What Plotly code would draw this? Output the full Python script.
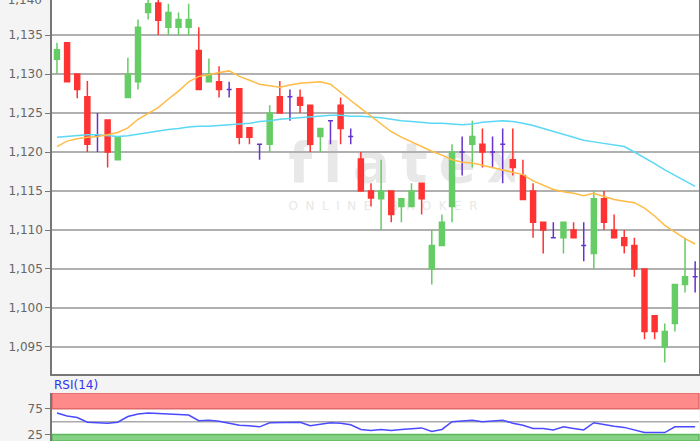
import base64
import plotly.graph_objects as go

# ---------------- data ----------------
opens = [1.1319, 1.1340, 1.1300, 1.1271, 1.1221, 1.1241, 1.1190, 1.1270, 1.1290, 1.1379,
         1.1391, 1.1360, 1.1360, 1.1360, 1.1330, 1.1290, 1.1290, 1.1280, 1.1281, 1.1231,
         1.1210, 1.1210, 1.1271, 1.1271, 1.1270, 1.1260, 1.1220, 1.1240, 1.1260, 1.1220,
         1.1191, 1.1150, 1.1140, 1.1150, 1.1130, 1.1130, 1.1160, 1.1050, 1.1080, 1.1130,
         1.1200, 1.1210, 1.1210, 1.1200, 1.1210, 1.1190, 1.1170, 1.1150, 1.1110, 1.1090,
         1.1090, 1.1100, 1.1080, 1.1070, 1.1140, 1.1100, 1.1090, 1.1080, 1.1050, 1.0990,
         1.0950, 1.0980, 1.1030, 1.1040]
highs = [1.1340, 1.1340, 1.1300, 1.1291, 1.1250, 1.1241, 1.1219, 1.1321, 1.1370, 1.1400,
         1.1400, 1.1390, 1.1379, 1.1390, 1.1360, 1.1320, 1.1310, 1.1290, 1.1281, 1.1231,
         1.1210, 1.1260, 1.1291, 1.1280, 1.1280, 1.1260, 1.1230, 1.1240, 1.1270, 1.1230,
         1.1200, 1.1160, 1.1190, 1.1150, 1.1140, 1.1160, 1.1160, 1.1100, 1.1120, 1.1210,
         1.1220, 1.1240, 1.1230, 1.1220, 1.1230, 1.1230, 1.1190, 1.1160, 1.1110, 1.1110,
         1.1110, 1.1110, 1.1110, 1.1150, 1.1150, 1.1120, 1.1100, 1.1090, 1.1050, 1.0990,
         1.0980, 1.1030, 1.1090, 1.1060]
lows = [1.1300, 1.1290, 1.1269, 1.1200, 1.1200, 1.1180, 1.1190, 1.1270, 1.1280, 1.1370,
        1.1350, 1.1350, 1.1350, 1.1350, 1.1280, 1.1290, 1.1270, 1.1270, 1.1210, 1.1210,
        1.1190, 1.1200, 1.1250, 1.1240, 1.1250, 1.1200, 1.1200, 1.1210, 1.1210, 1.1210,
        1.1150, 1.1130, 1.1100, 1.1110, 1.1110, 1.1130, 1.1120, 1.1030, 1.1080, 1.1110,
        1.1170, 1.1180, 1.1180, 1.1180, 1.1160, 1.1170, 1.1139, 1.1090, 1.1070, 1.1090,
        1.1070, 1.1090, 1.1060, 1.1050, 1.1100, 1.1090, 1.1070, 1.1040, 1.0960, 1.0960,
        1.0930, 1.0970, 1.1020, 1.1020]
closes = [1.1331, 1.1290, 1.1280, 1.1210, 1.1221, 1.1200, 1.1219, 1.1300, 1.1360, 1.1390,
          1.1369, 1.1379, 1.1370, 1.1370, 1.1280, 1.1300, 1.1280, 1.1280, 1.1219, 1.1219,
          1.1210, 1.1250, 1.1250, 1.1271, 1.1260, 1.1210, 1.1230, 1.1240, 1.1230, 1.1220,
          1.1150, 1.1141, 1.1150, 1.1120, 1.1140, 1.1150, 1.1140, 1.1080, 1.1110, 1.1200,
          1.1200, 1.1220, 1.1200, 1.1200, 1.1210, 1.1180, 1.1139, 1.1110, 1.1100, 1.1090,
          1.1110, 1.1090, 1.1080, 1.1140, 1.1110, 1.1090, 1.1080, 1.1050, 1.0970, 1.0970,
          1.0970, 1.1030, 1.1040, 1.1040]

ma_short = [1.1207, 1.1214, 1.1217, 1.1219, 1.1220, 1.1222, 1.1225, 1.1231, 1.1242, 1.1249,
            1.1257, 1.1268, 1.1278, 1.1290, 1.1297, 1.1299, 1.1302, 1.1304, 1.1297, 1.1292,
            1.1287, 1.1285, 1.1283, 1.1286, 1.1288, 1.1289, 1.1290, 1.1287, 1.1276, 1.1266,
            1.1256, 1.1246, 1.1235, 1.1226, 1.1219, 1.1213, 1.1206, 1.1201, 1.1196, 1.1190,
            1.1187, 1.1186, 1.1183, 1.1180, 1.1177, 1.1174, 1.1171, 1.1163, 1.1157, 1.1152,
            1.1149, 1.1147, 1.1144, 1.1147, 1.1143, 1.1139, 1.1137, 1.1135, 1.1128, 1.1118,
            1.1106, 1.1097, 1.1089, 1.1082]
ma_long = [1.1219, 1.1220, 1.1221, 1.1222, 1.1222, 1.1221, 1.1220, 1.1221, 1.1223, 1.1225,
           1.1227, 1.1229, 1.1230, 1.1232, 1.1233, 1.1233, 1.1234, 1.1235, 1.1236, 1.1237,
           1.1239, 1.1240, 1.1242, 1.1243, 1.1244, 1.1245, 1.1246, 1.1247, 1.1247, 1.1246,
           1.1246, 1.1245, 1.1244, 1.1242, 1.1240, 1.1239, 1.1238, 1.1237, 1.1237, 1.1236,
           1.1235, 1.1236, 1.1238, 1.1239, 1.1240, 1.1239, 1.1237, 1.1234, 1.1230, 1.1226,
           1.1222, 1.1219, 1.1215, 1.1213, 1.1211, 1.1209, 1.1207, 1.1200, 1.1193, 1.1185,
           1.1177, 1.1170, 1.1163, 1.1156]
rsi = [67, 61, 58, 49, 48, 47, 49, 60, 65, 67,
       66, 65, 65, 63, 52, 53, 51, 47, 43, 42,
       40, 48, 48, 49, 49, 42, 45, 48, 47, 44,
       35, 33, 35, 33, 35, 37, 38, 31, 35, 50,
       52, 53, 50, 51, 53, 47, 43, 37, 37, 34,
       40, 37, 34, 48, 44, 41, 39, 34, 29, 29,
       29, 40, 40, 40]

price_ticks = [1.095, 1.100, 1.105, 1.110, 1.115, 1.120, 1.125, 1.130, 1.135]
price_labels = ["1,095", "1,100", "1,105", "1,110", "1,115", "1,120", "1,125", "1,130", "1,135"]
top_label = "1,140"
rsi_ticks = [25, 75]
rsi_labels = ["25", "75"]

# ---------------- styling ----------------
GREEN = "#66cc66"
RED = "#ff3333"
PURPLE = "#6633cc"
FONT = "DejaVu Sans"

x = list(range(len(opens)))

def subset(kind):
    idx = []
    for i in x:
        if kind == "up" and closes[i] > opens[i]:
            idx.append(i)
        elif kind == "down" and closes[i] < opens[i]:
            idx.append(i)
        elif kind == "doji" and closes[i] == opens[i]:
            idx.append(i)
    return idx

fig = go.Figure()

for kind, col in (("up", GREEN), ("down", RED), ("doji", PURPLE)):
    ids = subset(kind)
    fig.add_trace(go.Candlestick(
        x=[x[i] for i in ids],
        open=[opens[i] for i in ids], high=[highs[i] for i in ids],
        low=[lows[i] for i in ids], close=[closes[i] for i in ids],
        increasing=dict(line=dict(color=col, width=1.5), fillcolor=col),
        decreasing=dict(line=dict(color=col, width=1.5), fillcolor=col),
        whiskerwidth=0, hoverinfo="skip", showlegend=False,
        xaxis="x", yaxis="y"))

fig.add_trace(go.Scatter(x=x, y=ma_long, mode="lines",
                         line=dict(color="#5ad8f5", width=1.5),
                         hoverinfo="skip", showlegend=False))
fig.add_trace(go.Scatter(x=x, y=ma_short, mode="lines",
                         line=dict(color="#ffbb44", width=1.5),
                         hoverinfo="skip", showlegend=False))

fig.add_trace(go.Scatter(x=x, y=rsi, mode="lines",
                         line=dict(color="#4a4aff", width=1.5),
                         hoverinfo="skip", showlegend=False,
                         xaxis="x2", yaxis="y2"))

# ---------------- watermark (below the traces) ----------------
svg = (
    '<svg xmlns="http://www.w3.org/2000/svg" width="240" height="100" viewBox="0 0 240 100">'
    '<text x="136" y="62" text-anchor="middle" font-family="DejaVu Sans, sans-serif" '
    'font-size="55" font-weight="bold" letter-spacing="11" fill="#e8e8e8">flatex</text>'
    '<text x="112" y="90" text-anchor="middle" font-family="DejaVu Sans, sans-serif" '
    'font-size="12" letter-spacing="7.5" fill="#e8e8e8">ONLINE BROKER</text>'
    '</svg>')
src = "data:image/svg+xml;base64," + base64.b64encode(svg.encode()).decode()
fig.add_layout_image(dict(source=src, xref="x", yref="y", x=21.5, y=1.1241,
                          sizex=23.7, sizey=0.0128, xanchor="left", yanchor="top",
                          sizing="stretch", layer="below", opacity=1))

# ---------------- RSI bands ----------------
fig.add_shape(type="rect", xref="x2 domain", yref="y2", x0=0, x1=1, y0=75, y1=105.6,
              fillcolor="#ff8a8a", line=dict(color="#e06a6a", width=1.5), layer="below")
fig.add_shape(type="rect", xref="x2 domain", yref="y2", x0=0, x1=1, y0=12.6, y1=25,
              fillcolor="#85d185", line=dict(color="#5cb85c", width=1.5), layer="below")
fig.add_shape(type="line", xref="x2 domain", yref="y2", x0=0, x1=1, y0=50, y1=50,
              line=dict(color="#aaaaaa", width=1.5), layer="below")

# ---------------- layout ----------------
axis_col = "#777777"
fig.update_layout(
    width=700, height=441,
    margin=dict(l=52, r=1, t=0, b=0, autoexpand=False),
    paper_bgcolor="#f4f4f4", plot_bgcolor="#ffffff",
    showlegend=False, hovermode=False,
    font=dict(family=FONT, size=12, color="#666666"),
    title=dict(text=top_label, xref="container", yref="container", x=42 / 700, y=1,
               xanchor="right", yanchor="middle",
               font=dict(family=FONT, size=12, color="#666666")),
    xaxis=dict(range=[-0.49, 63.38], domain=[0, 1], showticklabels=False,
               showgrid=False, zeroline=False, ticks="",
               showline=True, linecolor=axis_col, linewidth=1.5,
               rangeslider=dict(visible=False), anchor="y"),
    yaxis=dict(range=[1.09154, 1.13949], domain=[0.152, 1],
               tickvals=price_ticks, ticktext=price_labels,
               showgrid=True, gridcolor="#b0b0b0", gridwidth=1.5,
               zeroline=False, ticks="outside", ticklen=5, tickcolor=axis_col,
               tickwidth=1, showline=True, linecolor=axis_col, linewidth=1.5,
               mirror=True, tickfont=dict(family=FONT, size=12, color="#666666"),
               anchor="x"),
    xaxis2=dict(range=[-0.49, 63.38], domain=[0, 1], showticklabels=False,
                showgrid=False, zeroline=False, ticks="", showline=False,
                anchor="y2", matches="x"),
    yaxis2=dict(range=[12.6, 105.6], domain=[0, 0.1088],
                tickvals=rsi_ticks, ticktext=rsi_labels, ticklabeloverflow="allow",
                showgrid=False, zeroline=False, ticks="outside", ticklen=5,
                tickcolor=axis_col, showline=True, linecolor=axis_col, linewidth=1.5,
                tickfont=dict(family=FONT, size=12, color="#666666"), anchor="x2"),
)

fig.add_annotation(text="RSI(14)", xref="paper", yref="paper", x=0, y=0.127,
                   xanchor="left", yanchor="middle", showarrow=False,
                   font=dict(family=FONT, size=12, color="#3333ee"))

fig.write_html("out.html", config={"displayModeBar": False},
               post_script="document.body.style.margin='0px';document.body.style.overflow='hidden';")
